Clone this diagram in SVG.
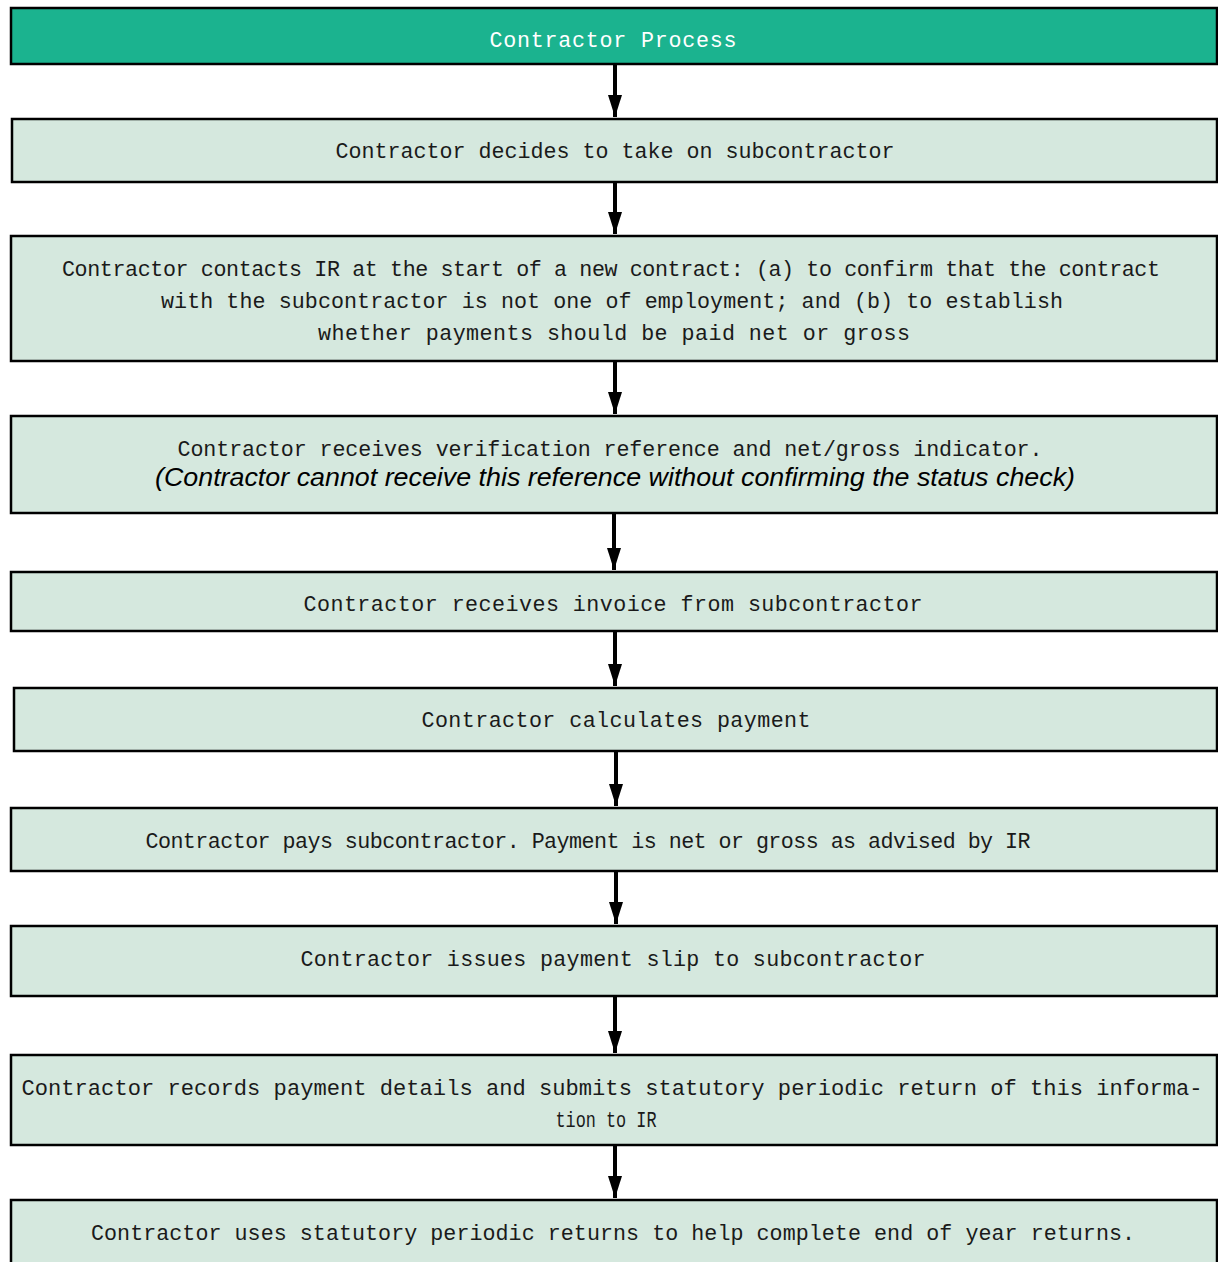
<svg xmlns="http://www.w3.org/2000/svg" width="1218" height="1262" viewBox="0 0 1218 1262">
<defs>
<marker id="ah" markerWidth="22" markerHeight="14" refX="22" refY="7" orient="auto" markerUnits="userSpaceOnUse" viewBox="0 0 22 14">
<path d="M0,0 L22,7 L0,14 Z" fill="#000"/>
</marker>
<style>
.box{fill:#d5e8de;stroke:#000;stroke-width:2.5}
.hdr{fill:#1bb38f;stroke:#000;stroke-width:2.5}
.t{font-family:"Liberation Mono","Courier New",monospace;font-size:21.7px;fill:#1a1a1a;text-anchor:middle}
.ht{fill:#ffffff}
.it{font-family:"Liberation Sans",Arial,sans-serif;font-style:italic;font-size:25px;fill:#000;text-anchor:middle}
.c{stroke:#000;stroke-width:4;fill:none}
</style>
</defs>
<rect width="1218" height="1262" fill="#fff"/>
<g id="connectors">
<line class="c" x1="615" y1="65" x2="615" y2="117" marker-end="url(#ah)"/>
<line class="c" x1="615" y1="183" x2="615" y2="234" marker-end="url(#ah)"/>
<line class="c" x1="615" y1="362" x2="615" y2="414" marker-end="url(#ah)"/>
<line class="c" x1="614" y1="514" x2="614" y2="570" marker-end="url(#ah)"/>
<line class="c" x1="615" y1="632" x2="615" y2="686" marker-end="url(#ah)"/>
<line class="c" x1="616" y1="752" x2="616" y2="806" marker-end="url(#ah)"/>
<line class="c" x1="616" y1="872" x2="616" y2="924" marker-end="url(#ah)"/>
<line class="c" x1="615" y1="997" x2="615" y2="1053" marker-end="url(#ah)"/>
<line class="c" x1="615" y1="1146" x2="615" y2="1198" marker-end="url(#ah)"/>
</g>
<g id="n0"><rect class="hdr" x="11" y="8" width="1206" height="56"/><text class="t ht" x="613" y="47" textLength="247">Contractor Process</text></g>
<g id="n1"><rect class="box" x="12" y="119" width="1205" height="63"/><text class="t" x="615" y="158" textLength="559">Contractor decides to take on subcontractor</text></g>
<g id="n2"><rect class="box" x="11" y="236" width="1206" height="125"/>
<text class="t" x="611" y="276" textLength="1098">Contractor contacts IR at the start of a new contract: (a) to confirm that the contract</text>
<text class="t" x="612" y="308" textLength="902">with the subcontractor is not one of employment; and (b) to establish</text>
<text class="t" x="614" y="340" textLength="592">whether payments should be paid net or gross</text></g>
<g id="n3"><rect class="box" x="11" y="416" width="1206" height="97"/>
<text class="t" x="610" y="456" textLength="865">Contractor receives verification reference and net/gross indicator.</text>
<text class="it" x="615" y="486" textLength="920" lengthAdjust="spacingAndGlyphs">(Contractor cannot receive this reference without confirming the status check)</text></g>
<g id="n4"><rect class="box" x="11" y="572" width="1206" height="59"/><text class="t" x="613" y="611" textLength="619">Contractor receives invoice from subcontractor</text></g>
<g id="n5"><rect class="box" x="14" y="688" width="1203" height="63"/><text class="t" x="616" y="727" textLength="389">Contractor calculates payment</text></g>
<g id="n6"><rect class="box" x="11" y="808" width="1206" height="63"/><text class="t" x="588" y="848" textLength="885">Contractor pays subcontractor. Payment is net or gross as advised by IR</text></g>
<g id="n7"><rect class="box" x="11" y="926" width="1206" height="70"/><text class="t" x="613" y="966" textLength="625">Contractor issues payment slip to subcontractor</text></g>
<g id="n8"><rect class="box" x="11" y="1055" width="1206" height="90"/>
<text class="t" x="612" y="1095" textLength="1181" lengthAdjust="spacingAndGlyphs">Contractor records payment details and submits statutory periodic return of this informa-</text>
<text class="t" x="606" y="1127" textLength="101" lengthAdjust="spacingAndGlyphs">tion to IR</text></g>
<g id="n9"><rect class="box" x="11" y="1200" width="1206" height="70"/><text class="t" x="613" y="1240" textLength="1044">Contractor uses statutory periodic returns to help complete end of year returns.</text></g>
</svg>
